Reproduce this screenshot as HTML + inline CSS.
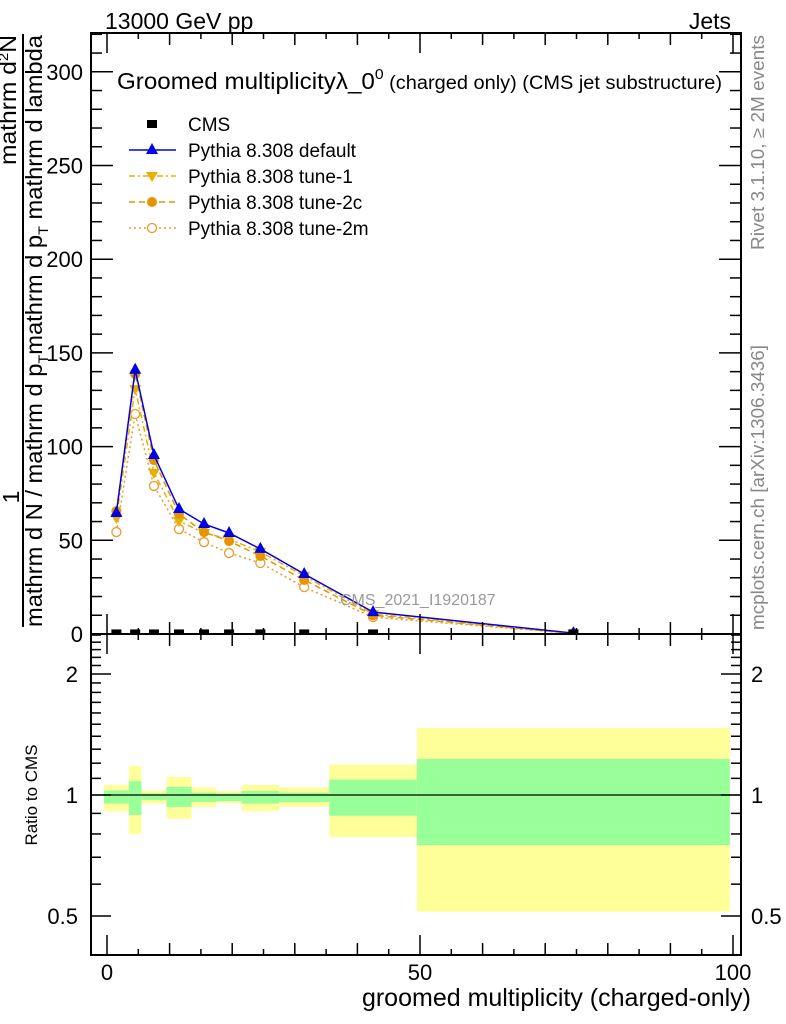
<!DOCTYPE html>
<html><head><meta charset="utf-8"><style>
body{margin:0;background:#fff}
svg{display:block;font-family:"Liberation Sans",sans-serif}
</style></head><body>
<svg id="c" width="786" height="1024" viewBox="0 0 786 1024" xmlns="http://www.w3.org/2000/svg">
<defs>
<clipPath id="mainclip"><rect x="91" y="33" width="650" height="601"/></clipPath>
<clipPath id="ratioclip"><rect x="91" y="634" width="650" height="321"/></clipPath>
</defs>
<g id="ratio-bands" clip-path="url(#ratioclip)"></g>
<g id="main-series" clip-path="url(#mainclip)"></g>
<g id="axes"></g>
<text x="105" y="29" font-size="23">13000 GeV pp</text>
<text x="731" y="29" font-size="23" text-anchor="end">Jets</text>
<text x="117" y="89" font-size="23" textLength="605" lengthAdjust="spacingAndGlyphs">Groomed multiplicityλ_0<tspan dy="-10" font-size="15">0</tspan><tspan dy="10" font-size="19"> (charged only) (CMS jet substructure)</tspan></text>
<text x="340" y="605" font-size="16" fill="#999">CMS_2021_I1920187</text>
<text transform="translate(764,250) rotate(-90)" font-size="18" fill="#888" textLength="215" lengthAdjust="spacingAndGlyphs">Rivet 3.1.10, ≥ 2M events</text>
<text transform="translate(764,630) rotate(-90)" font-size="18" fill="#888" textLength="285" lengthAdjust="spacingAndGlyphs">mcplots.cern.ch [arXiv:1306.3436]</text>
<g font-size="23">
<text transform="translate(19,497) rotate(-90)" text-anchor="middle">1</text>
<line x1="23" y1="34" x2="23" y2="627" stroke="#000" stroke-width="2"/>
<text transform="translate(16,165) rotate(-90)" textLength="130" lengthAdjust="spacingAndGlyphs">mathrm d<tspan dy="-8" font-size="14">2</tspan><tspan dy="8">N</tspan></text>
<text transform="translate(42,627) rotate(-90)" textLength="592" lengthAdjust="spacingAndGlyphs">mathrm d N / mathrm d p<tspan dy="6" font-size="14">T</tspan><tspan dy="-6">mathrm d p</tspan><tspan dy="6" font-size="14">T</tspan><tspan dy="-6"> mathrm d lambda</tspan></text>
</g>
<text transform="translate(37,795) rotate(-90)" font-size="17" text-anchor="middle">Ratio to CMS</text>
<text x="751" y="1006" font-size="25" text-anchor="end">groomed multiplicity (charged-only)</text>
<g id="legend" font-size="19"></g>
</svg>
<script>
const binEdges=[-0.5,3.5,5.5,9.5,13.5,17.5,21.5,27.5,35.5,49.5,99.5];
const binCenters=[1.5,4.5,7.5,11.5,15.5,19.5,24.5,31.5,42.5,74.5];
const cmsValues=[0.3,0.3,0.3,0.3,0.3,0.3,0.3,0.3,0.3,0.3];
const defaultValues=[64.6,141,95.5,66.7,58.7,53.9,45.4,32,11.7,0.5];
const tune1Values=[61.9,130.7,86,60.3,53.9,50.7,43.8,31,10.7,0.3];
const tune2cValues=[65.6,138.7,92.8,64,54.4,49.6,41.6,28.8,10,0.3];
const tune2mValues=[54.4,117.4,79,56,49,43.2,37.9,25,9,0.3];
const yellowUp=[1.059,1.181,1.026,1.109,1.044,1.023,1.059,1.044,1.190,1.468];
const yellowDn=[0.912,0.800,0.952,0.872,0.935,0.955,0.912,0.935,0.786,0.513];
const greenUp=[1.026,1.083,1.009,1.047,1.014,1.009,1.023,1.014,1.093,1.229];
const greenDn=[0.952,0.892,0.972,0.934,0.961,0.966,0.952,0.960,0.888,0.751];
const mainYTicks=[0,50,100,150,200,250,300];
const ratioYTicks=[0.5,1,2];
const xTicks=[0,50,100];

const NS="http://www.w3.org/2000/svg";
const L=91,R=741,T=33,MB=634,RB=955;
const X=v=>107+v*6.26;
const Y=v=>634-v*1.874;
const RY=v=>795-Math.log2(v)*121;
function mk(tag,attrs,parent){const e=document.createElementNS(NS,tag);for(const k in attrs)e.setAttribute(k,attrs[k]);parent.appendChild(e);return e;}
const axes=document.getElementById('axes');
const bands=document.getElementById('ratio-bands');
const ms=document.getElementById('main-series');
const leg=document.getElementById('legend');

for(let i=0;i<binCenters.length;i++){
  const x0=X(binEdges[i]),x1=X(binEdges[i+1]);
  const y=mk('rect',{x:x0,y:RY(yellowUp[i]),width:x1-x0,height:RY(yellowDn[i])-RY(yellowUp[i]),fill:'#ffff99'},bands);
  
  
  const g=mk('rect',{x:x0,y:RY(greenUp[i]),width:x1-x0,height:RY(greenDn[i])-RY(greenUp[i]),fill:'#99ff99'},bands);
  
  
}
const one=mk('line',{x1:L,x2:R,y1:RY(1),y2:RY(1),stroke:'#000','stroke-width':1.2},bands);



const series=[
 {name:'tune-2m',vals:tune2mValues,color:'#eb9a2e',dash:'2,3',marker:'ocircle'},
 {name:'tune-1',vals:tune1Values,color:'#e8b000',dash:'6,3,2,3',marker:'dtri'},
 {name:'tune-2c',vals:tune2cValues,color:'#e69500',dash:'6,4',marker:'circle'},
 {name:'default',vals:defaultValues,color:'#0000e6',dash:'',marker:'tri'}
];
function marker(type,cx,cy,color,parent){
  let e;
  if(type==='tri')e=mk('polygon',{points:`${cx},${cy-7} ${cx-6},${cy+4} ${cx+6},${cy+4}`,fill:color},parent);
  else if(type==='dtri')e=mk('polygon',{points:`${cx},${cy+6} ${cx-6},${cy-4} ${cx+6},${cy-4}`,fill:color},parent);
  else if(type==='circle')e=mk('circle',{cx,cy,r:5,fill:color},parent);
  else if(type==='ocircle')e=mk('circle',{cx,cy,r:4.5,fill:'#fff',stroke:color,'stroke-width':1.3},parent);
  else e=mk('rect',{x:cx-5,y:cy-4,width:10,height:8,fill:'#000'},parent);
  return e;
}
series.forEach(s=>{
  const pts=binCenters.map((c,i)=>X(c)+','+Y(s.vals[i])).join(' ');
  const pl=mk('polyline',{points:pts,fill:'none',stroke:s.color,'stroke-width':1.5,'stroke-dasharray':s.dash},ms);
  
  
  binCenters.forEach((c,i)=>{
    const m=marker(s.marker,X(c),Y(s.vals[i]),s.color,ms);
    
    
  });
});
binCenters.forEach((c,i)=>{
  const m=marker('sq',X(c),Y(cmsValues[i]),'#000',ms);
  
  
});

[[T,MB],[MB,RB]].forEach(([a,b])=>{
  const f=mk('rect',{x:L,y:a,width:R-L,height:b-a,fill:'none',stroke:'#000','stroke-width':2},axes);
  
  
});
for(let v=0;v<=100;v+=5){
  const len=v%50===0?20:(v%10===0?12:6);
  [[T,1],[MB,-1],[MB,1],[RB,-1]].forEach(([y0,d])=>{
    mk('line',{x1:X(v),x2:X(v),y1:y0,y2:y0+d*len,stroke:'#000','stroke-width':1.5},axes);
  });
}
xTicks.forEach(v=>{
  const t=mk('text',{x:X(v),y:980,'font-size':22,'text-anchor':'middle'},axes);
  t.textContent=v;
  
  
});
for(let v=0;v<=320;v+=10){
  const len=v%50===0?22:11;
  mk('line',{x1:L,x2:L+len,y1:Y(v),y2:Y(v),stroke:'#000','stroke-width':1.5},axes);
  mk('line',{x1:R,x2:R-len,y1:Y(v),y2:Y(v),stroke:'#000','stroke-width':1.5},axes);
}
mainYTicks.forEach(v=>{
  const t=mk('text',{x:83,y:Y(v)+8,'font-size':22,'text-anchor':'end'},axes);
  t.textContent=v;
  
  
});
const rminor=[0.5,0.6,0.7,0.8,0.9,1,1.1,1.2,1.3,1.4,1.5,1.6,1.7,1.8,1.9,2,2.1,2.2,2.3,2.4,2.5];
rminor.forEach(v=>{
  const len=(v===0.5||v===1||v===2)?20:10;
  mk('line',{x1:L,x2:L+len,y1:RY(v),y2:RY(v),stroke:'#000','stroke-width':1.5},axes);
  mk('line',{x1:R,x2:R-len,y1:RY(v),y2:RY(v),stroke:'#000','stroke-width':1.5},axes);
});
ratioYTicks.forEach(v=>{
  const t=mk('text',{x:78,y:RY(v)+8,'font-size':22,'text-anchor':'end'},axes);
  t.textContent=v;
  
  
  const t2=mk('text',{x:751,y:RY(v)+8,'font-size':22},axes);
  t2.textContent=v;
  
  
});

const legItems=[
 {label:'CMS',marker:'sq',color:'#000',dash:null},
 {label:'Pythia 8.308 default',marker:'tri',color:'#0000e6',dash:''},
 {label:'Pythia 8.308 tune-1',marker:'dtri',color:'#e8b000',dash:'6,3,2,3'},
 {label:'Pythia 8.308 tune-2c',marker:'circle',color:'#e69500',dash:'6,4'},
 {label:'Pythia 8.308 tune-2m',marker:'ocircle',color:'#eb9a2e',dash:'2,3'}
];
legItems.forEach((it,i)=>{
  const y=124+i*26;
  const g=mk('g',{},leg);
  
  
  if(it.dash!==null)mk('line',{x1:129,x2:176,y1:y,y2:y,stroke:it.color,'stroke-width':1.5,'stroke-dasharray':it.dash},g);
  marker(it.marker,152,y,it.color,g);
  const t=mk('text',{x:188,y:y+7},g);
  t.textContent=it.label;
});
</script>
</body></html>
